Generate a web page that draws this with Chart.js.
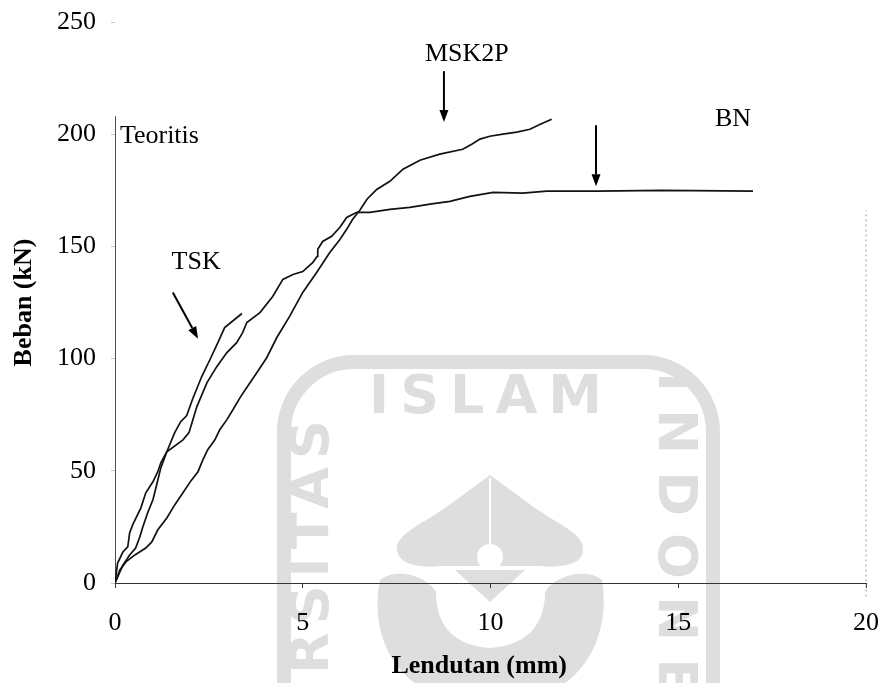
<!DOCTYPE html>
<html>
<head>
<meta charset="utf-8">
<script src="https://cdn.jsdelivr.net/npm/chart.js@4.4.1/dist/chart.umd.min.js"></script>
<style>
  html, body { margin: 0; padding: 0; background: #fff; }
  #wrap { width: 880px; height: 683px; }
</style>
</head>
<body>
<div id="wrap"><canvas id="c" width="880" height="683"></canvas></div>
<script>
// Load–deflection test curves: [deflection (mm), load (kN)]
const tsk = [[0,0],[0.07,8.9],[0.21,13.8],[0.34,16.1],[0.39,22.3],[0.47,25.9],[0.69,33.5],[0.82,40.2],[1.01,45.1],[1.14,49.6],[1.22,53.6],[1.38,58.5],[1.59,67.0],[1.75,71.9],[1.91,74.6],[2.07,82.1],[2.31,92.0],[2.53,99.6],[2.74,107.1],[2.92,113.8],[3.38,120.1]];

const bn = [[0,0],[0.21,8.0],[0.39,12.5],[0.55,15.6],[0.66,20.5],[0.74,25.0],[0.87,31.3],[1.01,37.1],[1.11,43.8],[1.22,51.3],[1.38,58.5],[1.81,63.8],[1.97,67.0],[2.05,71.4],[2.18,78.6],[2.45,89.3],[2.71,96.4],[2.98,102.7],[3.24,107.1],[3.40,111.6],[3.51,116.1],[3.86,120.5],[4.20,127.7],[4.47,135.3],[4.74,137.5],[5.00,138.8],[5.27,142.9],[5.38,145.5],[5.40,148.7],[5.53,152.2],[5.77,154.5],[5.99,158.5],[6.17,162.9],[6.44,165.2],[6.79,165.2],[7.32,166.5],[7.85,167.4],[8.39,168.8],[8.92,170.1],[9.45,172.3],[10.07,174.1],[10.86,173.7],[11.50,174.6],[12.83,174.6],[14.59,175.0],[16.99,174.6]];

const msk2p = [[0,0],[0.13,5.8],[0.29,9.4],[0.53,12.5],[0.82,15.6],[0.98,18.3],[1.14,23.7],[1.38,29.0],[1.59,34.8],[1.81,40.2],[2.02,45.5],[2.21,49.6],[2.34,54.9],[2.47,59.4],[2.66,63.8],[2.79,68.3],[2.98,72.8],[3.14,77.2],[3.33,82.6],[3.51,87.1],[3.78,93.8],[4.04,100.4],[4.31,109.4],[4.65,118.8],[5.00,129.5],[5.37,138.4],[5.72,147.3],[5.99,153.1],[6.17,157.6],[6.33,162.1],[6.52,166.1],[6.71,171.0],[6.97,175.4],[7.32,179.0],[7.67,184.4],[8.12,188.4],[8.65,191.1],[9.26,193.3],[9.50,195.5],[9.72,197.8],[9.98,199.1],[10.33,200.0],[10.70,200.9],[11.05,202.2],[11.34,204.5],[11.63,206.7]];

// Theoretical (rigid) line along zero deflection
const teoritis = [[0,0],[0,208]];

// Faint right-hand frame line
const frameRight = [[20,-6],[20,166]];

// Axis ranges and tick steps
const xRange = [0, 20];
const xStep = 5;
const yRange = [0, 250];
const yStep = 50;

// Callout labels: [text, x, y, align]
const labels = [
  ['Teoritis', 0.13, 199, 'left'],
  ['TSK', 2.16, 143, 'center'],
  ['MSK2P', 9.37, 235.7, 'center'],
  ['BN', 16.46, 206.7, 'center']
];

// Callout arrows: [x from, y from, x to, y to]
const arrows = [
  [1.54, 129.5, 2.21, 108.9],
  [8.76, 228.1, 8.76, 205.4],
  [12.81, 204.0, 12.81, 176.8]
];

const toPts = arr => arr.map(p => ({ x: p[0], y: p[1] }));
const SERIF = '"Liberation Serif", "Times New Roman", serif';

// University seal drawn faintly behind the plot
const sealPlugin = {
  id: 'seal',
  beforeDraw(chart) {
    const ctx = chart.ctx;
    ctx.save();
    const grey = '#dedede';
    ctx.fillStyle = grey;
    ctx.strokeStyle = grey;

    // outer rounded frame
    ctx.lineWidth = 14;
    ctx.beginPath();
    ctx.roundRect(284, 362, 429, 420, 70);
    ctx.stroke();

    ctx.font = 'bold 54px "DejaVu Sans", sans-serif';
    ctx.textBaseline = 'middle';

    // top word
    ctx.letterSpacing = '11px';
    ctx.textAlign = 'center';
    ctx.fillText('ISLAM', 491, 399);

    // left word, reading upwards
    ctx.save();
    ctx.letterSpacing = '8px';
    ctx.translate(314, 412);
    ctx.rotate(-Math.PI / 2);
    ctx.textAlign = 'right';
    ctx.fillText('UNIVERSITAS', 0, 0);
    ctx.restore();

    // right word, reading downwards
    ctx.save();
    ctx.letterSpacing = '17px';
    ctx.translate(673, 372);
    ctx.rotate(Math.PI / 2);
    ctx.textAlign = 'left';
    ctx.fillText('INDONESIA', 0, 0);
    ctx.restore();

    // dome
    ctx.beginPath();
    ctx.moveTo(490, 475);
    ctx.lineTo(445, 508);
    ctx.bezierCurveTo(420, 525, 395, 535, 397, 550);
    ctx.bezierCurveTo(399, 565, 420, 568, 440, 566);
    ctx.lineTo(540, 566);
    ctx.bezierCurveTo(560, 568, 583, 565, 583, 550);
    ctx.bezierCurveTo(585, 535, 560, 525, 535, 508);
    ctx.closePath();
    ctx.fill();

    // stem below the dome
    ctx.beginPath();
    ctx.moveTo(455, 570);
    ctx.lineTo(525, 570);
    ctx.lineTo(490, 602);
    ctx.closePath();
    ctx.fill();

    // bowl
    ctx.beginPath();
    ctx.moveTo(380, 580);
    ctx.bezierCurveTo(368, 640, 400, 705, 490, 705);
    ctx.bezierCurveTo(580, 705, 612, 640, 602, 580);
    ctx.bezierCurveTo(588, 568, 556, 574, 545, 592);
    ctx.bezierCurveTo(545, 622, 530, 645, 490, 648);
    ctx.bezierCurveTo(450, 645, 436, 622, 436, 592);
    ctx.bezierCurveTo(425, 574, 395, 568, 380, 580);
    ctx.fill();

    // white details on the dome
    ctx.fillStyle = '#fff';
    ctx.beginPath();
    ctx.arc(490, 557, 13, 0, Math.PI * 2);
    ctx.fill();
    ctx.strokeStyle = '#fff';
    ctx.lineWidth = 2;
    ctx.beginPath();
    ctx.moveTo(490, 478);
    ctx.lineTo(490, 546);
    ctx.stroke();

    ctx.restore();
  }
};

// Series names, pointer arrows and the deflection axis title
const calloutPlugin = {
  id: 'callouts',
  afterDatasetsDraw(chart) {
    const { ctx, scales: { x, y } } = chart;
    ctx.save();
    ctx.fillStyle = '#000';
    ctx.strokeStyle = '#000';
    ctx.font = '26px ' + SERIF;
    ctx.textBaseline = 'middle';
    labels.forEach(([t, vx, vy, al]) => {
      ctx.textAlign = al;
      ctx.fillText(t, x.getPixelForValue(vx), y.getPixelForValue(vy));
    });
    arrows.forEach(([x1, y1, x2, y2]) => {
      const ax = x.getPixelForValue(x1), ay = y.getPixelForValue(y1);
      const bx = x.getPixelForValue(x2), by = y.getPixelForValue(y2);
      const ang = Math.atan2(by - ay, bx - ax);
      const head = 12, half = 4.5;
      const hx = bx - head * Math.cos(ang), hy = by - head * Math.sin(ang);
      ctx.lineWidth = 2;
      ctx.beginPath();
      ctx.moveTo(ax, ay);
      ctx.lineTo(hx, hy);
      ctx.stroke();
      ctx.beginPath();
      ctx.moveTo(bx, by);
      ctx.lineTo(hx - half * Math.sin(ang), hy + half * Math.cos(ang));
      ctx.lineTo(hx + half * Math.sin(ang), hy - half * Math.cos(ang));
      ctx.closePath();
      ctx.fill();
    });
    // axis title sits a little left of the plot centre
    ctx.font = 'bold 26px ' + SERIF;
    ctx.textAlign = 'center';
    ctx.fillText('Lendutan (mm)', x.getPixelForValue(9.7), chart.height - 16.6);
    ctx.restore();
  }
};

const curveStyle = {
  borderColor: '#111',
  borderWidth: 1.7,
  pointRadius: 0,
  tension: 0,
  fill: false
};

new Chart(document.getElementById('c'), {
  type: 'line',
  data: {
    datasets: [
      { label: 'Teoritis', data: toPts(teoritis), ...curveStyle, borderWidth: 1.5 },
      { label: 'TSK', data: toPts(tsk), ...curveStyle },
      { label: 'BN', data: toPts(bn), ...curveStyle },
      { label: 'MSK2P', data: toPts(msk2p), ...curveStyle },
      { label: 'frame', data: toPts(frameRight), borderColor: '#9a9a9a', borderWidth: 1,
        borderDash: [2, 3], pointRadius: 0, clip: false }
    ]
  },
  options: {
    responsive: false,
    animation: false,
    devicePixelRatio: 1,
    layout: { padding: 0 },
    plugins: { legend: { display: false }, tooltip: { enabled: false } },
    scales: {
      x: {
        type: 'linear',
        min: xRange[0], max: xRange[1],
        afterFit(s) { s.height = 100; s.paddingLeft = 0; s.paddingRight = 14; },
        ticks: { stepSize: xStep, color: '#000', padding: 20, maxRotation: 0,
                 font: { family: SERIF, size: 26 } },
        grid: { drawOnChartArea: false, tickLength: 5, color: '#333' },
        border: { display: true, color: '#333', width: 1 },
        title: { display: false }
      },
      y: {
        type: 'linear',
        min: yRange[0], max: yRange[1],
        afterFit(s) { s.width = 115; s.paddingTop = 22; s.paddingBottom = 0; },
        ticks: { stepSize: yStep, color: '#000', padding: 15,
                 font: { family: SERIF, size: 26 } },
        grid: { drawOnChartArea: false, tickLength: 4, color: '#c4c4c4' },
        border: { display: false },
        title: { display: true, text: 'Beban (kN)', color: '#000',
                 padding: { top: 9, bottom: 0 },
                 font: { family: SERIF, size: 26, weight: 'bold' } }
      }
    }
  },
  plugins: [sealPlugin, calloutPlugin]
});
</script>
</body>
</html>
